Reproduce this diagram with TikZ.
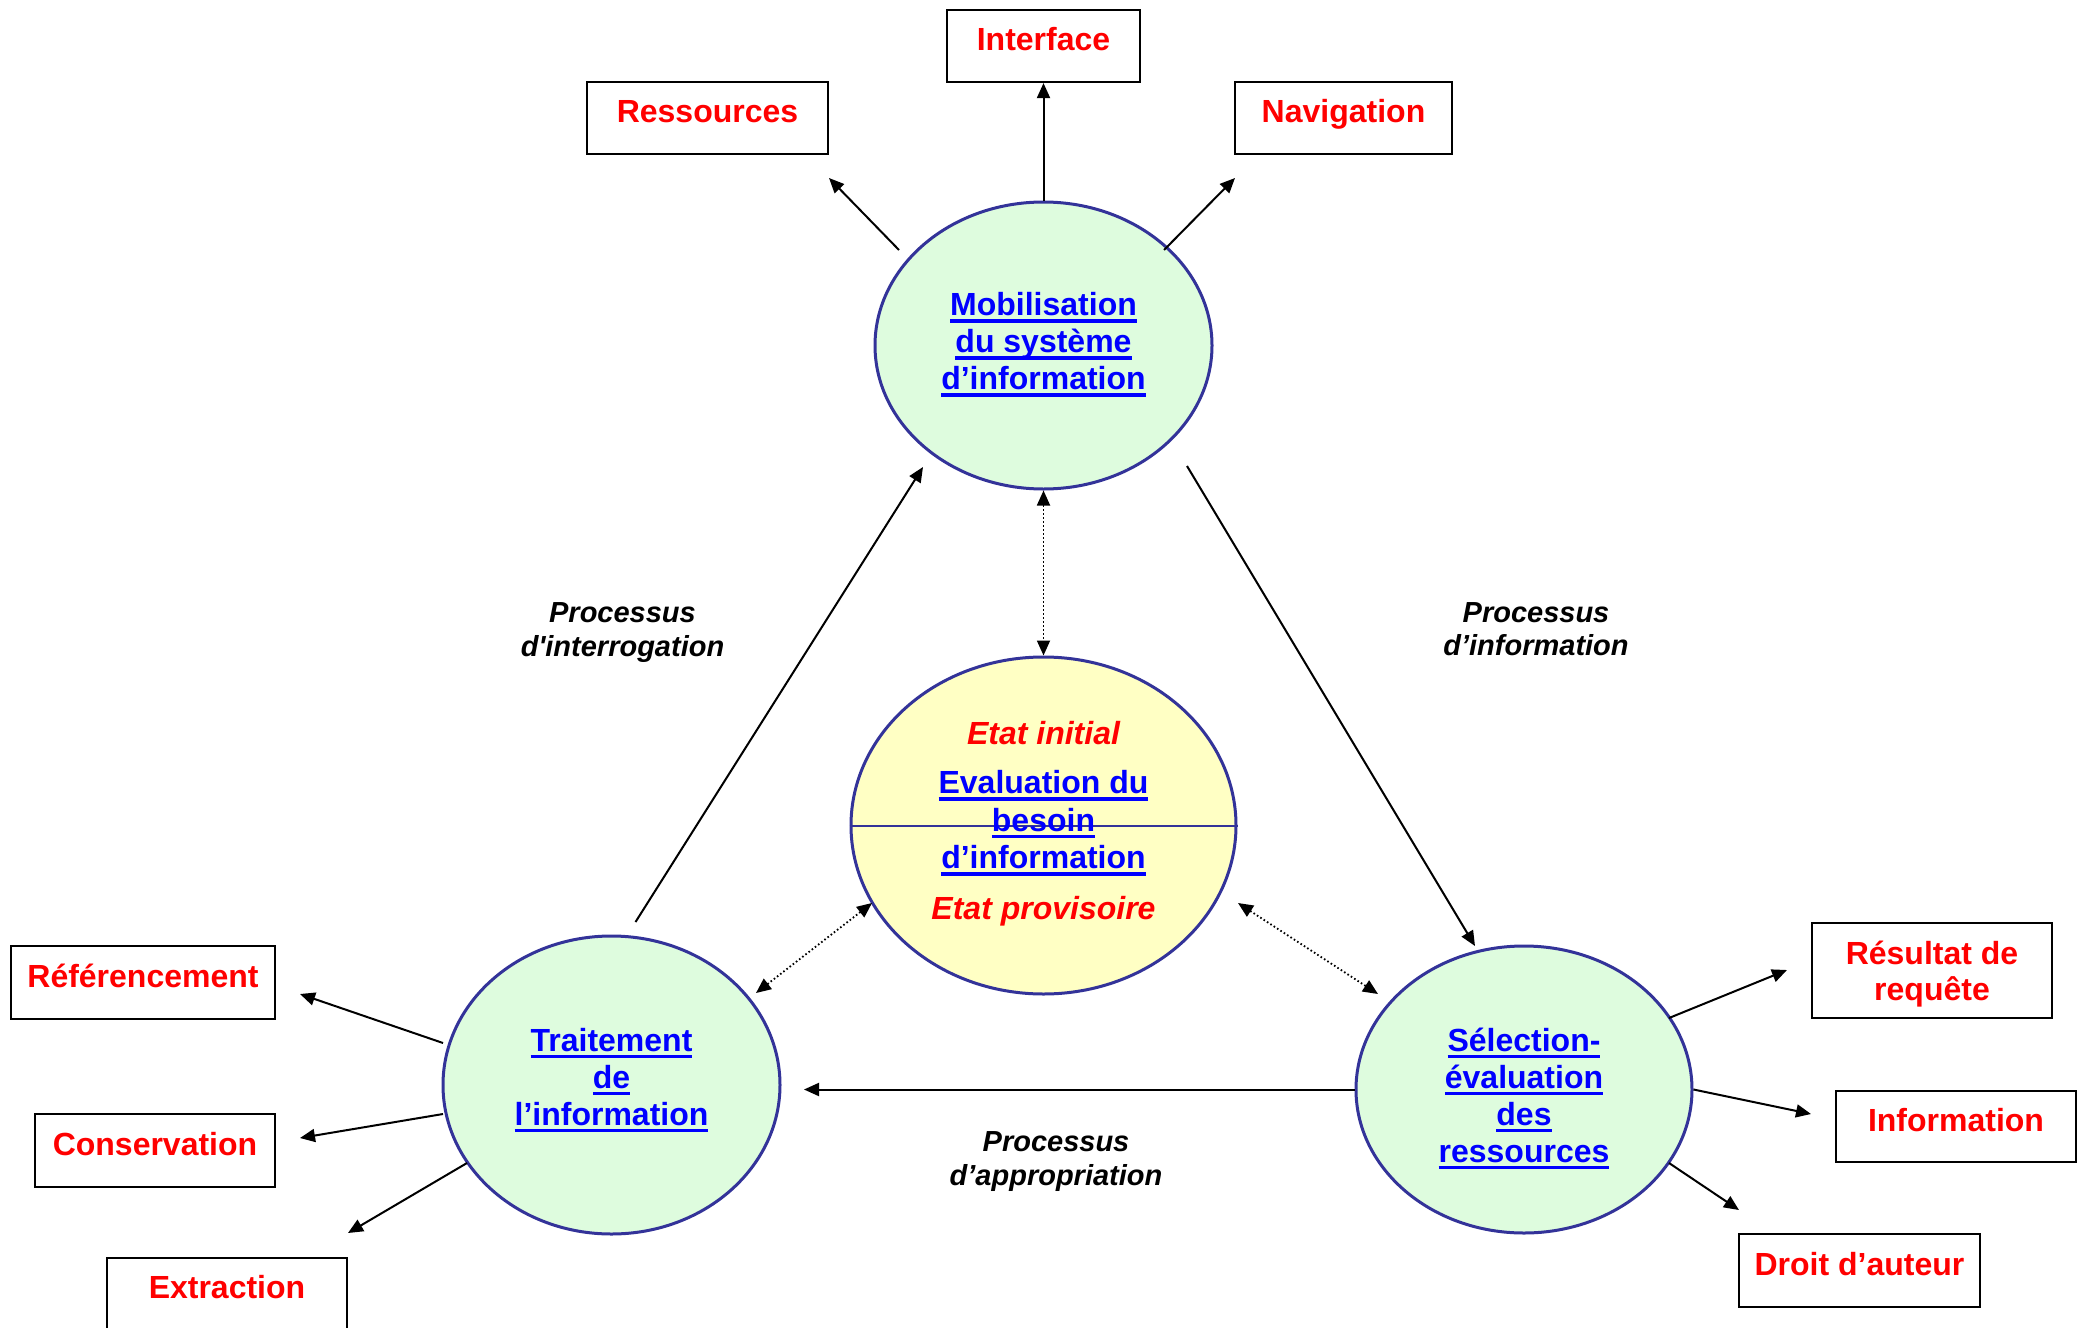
\documentclass[tikz,border=0pt]{standalone}
\usepackage{fontspec}
\setmainfont{Liberation Sans}
\usetikzlibrary{arrows.meta,shapes.geometric}
\definecolor{navyb}{RGB}{51,51,153}
\definecolor{ellgreen}{RGB}{222,252,222}
\definecolor{ellyellow}{RGB}{255,255,196}
\definecolor{txtred}{RGB}{255,0,0}
\definecolor{txtblue}{RGB}{0,0,255}
\newsavebox\ulbox
\newcommand\ulu[1]{\sbox\ulbox{#1}\rlap{\rule[-7pt]{\wd\ulbox}{3.5pt}}\usebox\ulbox}
\begin{document}
\begin{tikzpicture}[x=1pt,y=-1pt,
  ellnode/.style={ellipse, draw=navyb, line width=3pt, inner sep=0pt},
  bluetext/.style={text=txtblue, font=\fontsize{32}{37}\selectfont\bfseries, align=center, inner sep=0pt},
  basebox/.style={draw=black, line width=2.2pt, inner sep=0pt, text=txtred, align=center},
  boxnode/.style={basebox, font=\fontsize{32}{35}\selectfont\bfseries, text height=23pt, text depth=14pt},
  procl/.style={font=\fontsize{29}{33.5}\selectfont\bfseries\itshape, align=center, inner sep=0pt},
  arr/.style={line width=2pt, -{Triangle[length=15pt,width=13pt]}},
  darr/.style={line width=1.8pt, dash pattern=on 1.6pt off 2.4pt, {Triangle[length=15pt,width=13pt]}-{Triangle[length=15pt,width=13pt]}},
]
\useasboundingbox[fill=white] (0,0) rectangle (2089,1328);

% ellipses
\node[ellnode, fill=ellgreen, minimum width=337pt, minimum height=287pt] (mob) at (1043.5,345.5) {};
\node[ellnode, fill=ellyellow, minimum width=385pt, minimum height=337pt] (eval) at (1043.5,825.5) {};
\node[ellnode, fill=ellgreen, minimum width=337pt, minimum height=298pt] (trait) at (611.5,1085) {};
\node[ellnode, fill=ellgreen, minimum width=336pt, minimum height=287pt] (sel) at (1524,1089.5) {};
\draw[navyb, line width=2pt] (eval.west) -- (eval.east);

% ellipse texts
\node[bluetext] (mobt) at (1043.5,344.6) {\ulu{Mobilisation}\\\ulu{du système}\\\ulu{d’information}};
\node[bluetext] (traitt) at (611.5,1080) {\ulu{Traitement}\\\ulu{de}\\\ulu{l’information}};
\node[bluetext] (selt) at (1524,1098.5) {\ulu{Sélection-}\\\ulu{évaluation}\\\ulu{des}\\\ulu{ressources}};
\node[bluetext, font=\fontsize{32}{37.5}\selectfont\bfseries] (evalt) at (1043.5,824.2)
  {\textcolor{txtred}{\itshape Etat initial}\\[11.5pt]\ulu{Evaluation du}\\\ulu{besoin}\\\ulu{d’information}\\[13.5pt]\textcolor{txtred}{\itshape Etat provisoire}};

% boxes
\node[boxnode, minimum width=193pt, minimum height=72pt] (int) at (1043.5,46) {Interface};
\node[boxnode, minimum width=241pt, minimum height=72pt] (ress) at (707.5,118) {Ressources};
\node[boxnode, minimum width=217pt, minimum height=72pt] (nav) at (1343.5,118) {Navigation};
\node[boxnode, minimum width=264pt, minimum height=73pt] (ref) at (143,982.5) {Référencement};
\node[boxnode, minimum width=240pt, minimum height=73pt] (cons) at (155,1150.5) {Conservation};
\node[boxnode, minimum width=240pt, minimum height=72pt] (extr) at (227,1294) {Extraction};
\node[basebox, font=\fontsize{32}{36}\selectfont\bfseries, minimum width=240pt, minimum height=95pt] (res) at (1932,970.5) {\rule{0pt}{30pt}Résultat de\\requête};
\node[boxnode, minimum width=240pt, minimum height=71pt] (info) at (1956,1126.5) {Information};
\node[boxnode, minimum width=241pt, minimum height=73pt] (droit) at (1859.5,1270.5) {Droit d’auteur};

% process labels
\node[procl] (pint) at (622.5,632.4) {Processus\\d\textquotesingle interrogation};
\node[procl] (pinf) at (1536,629.4) {Processus\\d’information};
\node[procl] (papp) at (1056,1161.5) {Processus\\d’appropriation};

% free ends
\coordinate (c1s) at (899,250);   \coordinate (c1e) at (829,178);
\coordinate (c2s) at (1164,250);  \coordinate (c2e) at (1235,178);
\coordinate (c3s) at (635.5,922); \coordinate (c3e) at (923,467);
\coordinate (c4s) at (1187,466);  \coordinate (c4e) at (1475,946);
\coordinate (c5e) at (804,1089.5);
\coordinate (d1a) at (756,993);   \coordinate (d1b) at (872,903);
\coordinate (d2a) at (1238,903);  \coordinate (d2b) at (1378,994);
\coordinate (r1s) at (443,1043);  \coordinate (r1e) at (300,994);
\coordinate (r2s) at (443,1114);  \coordinate (r2e) at (300,1138);
\coordinate (r3s) at (467,1163);  \coordinate (r3e) at (348,1233);
\coordinate (s1s) at (1669,1018); \coordinate (s1e) at (1787,970);
\coordinate (s2e) at (1811,1114);
\coordinate (s3s) at (1669,1163); \coordinate (s3e) at (1739,1210);

% connectors
\draw[arr] (mob.north) -- (int.south);
\draw[arr] (c1s) -- (c1e);
\draw[arr] (c2s) -- (c2e);
\draw[arr] (c3s) -- (c3e);
\draw[arr] (c4s) -- (c4e);
\draw[arr] (sel.west) -- (c5e);
\draw[darr] (mob.south) -- (eval.north);
\draw[darr] (d1a) -- (d1b);
\draw[darr] (d2a) -- (d2b);
\draw[arr] (r1s) -- (r1e);
\draw[arr] (r2s) -- (r2e);
\draw[arr] (r3s) -- (r3e);
\draw[arr] (s1s) -- (s1e);
\draw[arr] (sel.east) -- (s2e);
\draw[arr] (s3s) -- (s3e);
\end{tikzpicture}
\end{document}
